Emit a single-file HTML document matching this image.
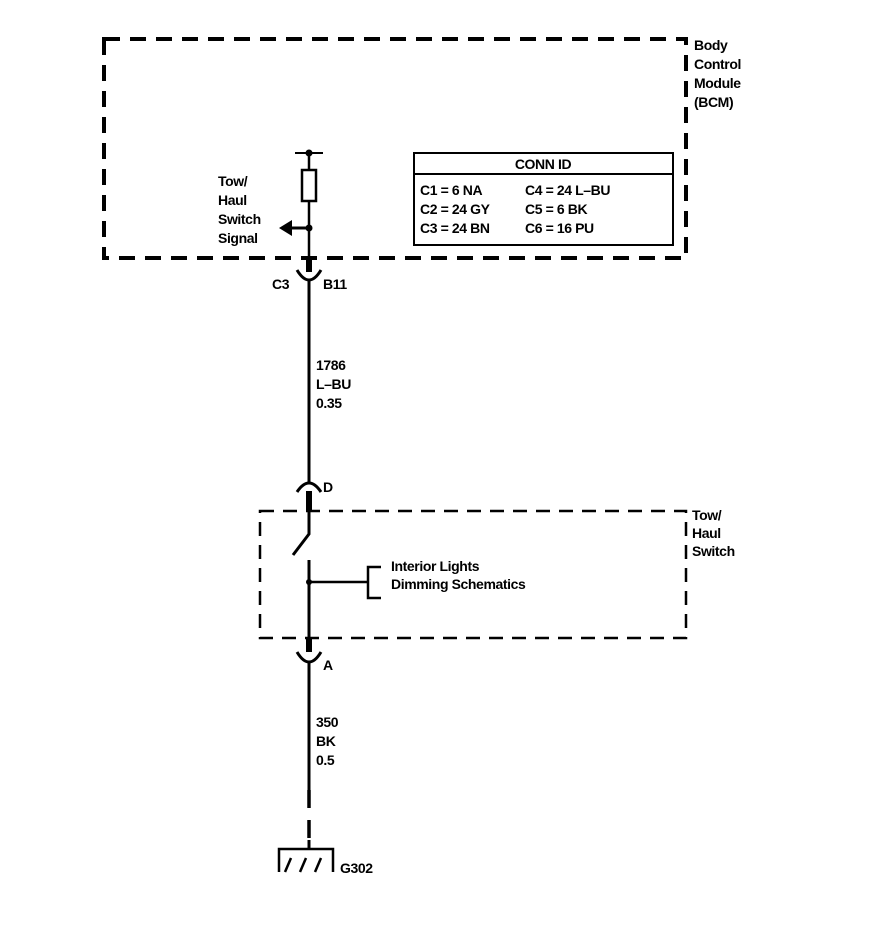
<!DOCTYPE html>
<html><head><style>
html,body{margin:0;padding:0;background:#fff;}
svg text{font-family:"Liberation Sans",sans-serif;font-size:14px;font-weight:bold;letter-spacing:-0.4px;fill:#000;}
</style></head><body>
<svg width="880" height="920" viewBox="0 0 880 920" xmlns="http://www.w3.org/2000/svg">
<g fill="none" stroke="#000">
<rect x="104" y="39" width="582" height="219" stroke-width="4" stroke-dasharray="16,10"/>
<rect x="260" y="511" width="426" height="127" stroke-width="2.5" stroke-dasharray="14,9"/>
<rect x="414" y="153" width="259" height="92" stroke-width="2"/>
<line x1="414" y1="174" x2="673" y2="174" stroke-width="2"/>
<line x1="295" y1="153" x2="323" y2="153" stroke-width="2"/>
<line x1="309" y1="153" x2="309" y2="170" stroke-width="2.5"/>
<rect x="302" y="170" width="14" height="31" stroke-width="2.5"/>
<line x1="309" y1="201" x2="309" y2="258" stroke-width="2.5"/>
<line x1="309" y1="228" x2="290" y2="228" stroke-width="3"/>
<line x1="309" y1="258" x2="309" y2="272" stroke-width="6"/>
<path d="M297,270 Q309,290 321,270" stroke-width="3"/>
<line x1="309" y1="280" x2="309" y2="484" stroke-width="3"/>
<path d="M297,492 Q309,474 321,492" stroke-width="3"/>
<line x1="309" y1="491" x2="309" y2="511" stroke-width="6"/>
<polyline points="309,511 309,534 293,555" stroke-width="3"/>
<line x1="309" y1="560" x2="309" y2="638" stroke-width="3"/>
<line x1="309" y1="582" x2="368" y2="582" stroke-width="2.5"/>
<polyline points="381,567 368,567 368,598 381,598" stroke-width="2.5"/>
<line x1="309" y1="638" x2="309" y2="652" stroke-width="6"/>
<path d="M297,652 Q309,672 321,652" stroke-width="3"/>
<line x1="309" y1="662" x2="309" y2="790" stroke-width="3"/>
<line x1="309" y1="790" x2="309" y2="848" stroke-width="3.5" stroke-dasharray="18,12"/>
<polyline points="279,872 279,849 333,849 333,872" stroke-width="2.5"/>
<line x1="309" y1="840" x2="309" y2="849" stroke-width="3"/>
<line x1="291" y1="858" x2="285" y2="872" stroke-width="2.5"/>
<line x1="306" y1="858" x2="300" y2="872" stroke-width="2.5"/>
<line x1="321" y1="858" x2="315" y2="872" stroke-width="2.5"/>
</g>
<circle cx="309" cy="153" r="3.5"/>
<circle cx="309" cy="228" r="3.5"/>
<circle cx="309" cy="582" r="3"/>
<polygon points="279,228 292,220 292,236" fill="#000"/>
<text x="218" y="186">Tow/</text>
<text x="218" y="205">Haul</text>
<text x="218" y="224">Switch</text>
<text x="218" y="243">Signal</text>
<text x="694" y="50">Body</text>
<text x="694" y="69">Control</text>
<text x="694" y="88">Module</text>
<text x="694" y="107">(BCM)</text>
<text x="543" y="169" text-anchor="middle">CONN ID</text>
<text x="420" y="195">C1 = 6 NA</text>
<text x="525" y="195">C4 = 24 L–BU</text>
<text x="420" y="214">C2 = 24 GY</text>
<text x="525" y="214">C5 = 6 BK</text>
<text x="420" y="233">C3 = 24 BN</text>
<text x="525" y="233">C6 = 16 PU</text>
<text x="272" y="289">C3</text>
<text x="323" y="289">B11</text>
<text x="316" y="370">1786</text>
<text x="316" y="389">L–BU</text>
<text x="316" y="408">0.35</text>
<text x="323" y="492">D</text>
<text x="692" y="520">Tow/</text>
<text x="692" y="538">Haul</text>
<text x="692" y="556">Switch</text>
<text x="391" y="571">Interior Lights</text>
<text x="391" y="589">Dimming Schematics</text>
<text x="323" y="670">A</text>
<text x="316" y="727">350</text>
<text x="316" y="746">BK</text>
<text x="316" y="765">0.5</text>
<text x="340" y="873">G302</text>
</svg>
</body></html>
